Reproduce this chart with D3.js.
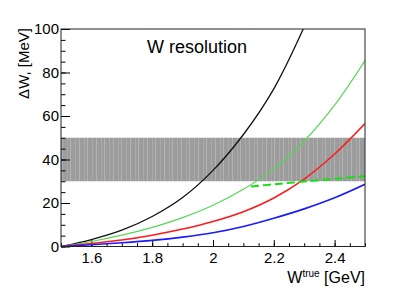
<!DOCTYPE html>
<html>
<head>
<meta charset="utf-8">
<script src="https://cdn.jsdelivr.net/npm/d3@7"></script>
<style>
  body { margin: 0; background: #fff; }
  text { font-family: "Liberation Sans", Arial, sans-serif; }
</style>
</head>
<body>
<div id="container"></div>
<script>
// data
var wValues = [1.5, 1.6, 1.7, 1.8, 1.9, 2.0, 2.1, 2.2, 2.3, 2.4, 2.5];
var blackRes = [0, 3.2, 7.5, 13.8, 22.5, 35, 51.5, 72.5, 101];
var greenRes = [0, 2.3, 5.2, 8.8, 13.3, 19, 26.3, 35.7, 48.5, 65, 85.5];
var redRes = [0, 1.4, 3.0, 5.2, 8, 11.5, 16, 22.3, 31, 42.5, 56.5];
var blueRes = [0, 0.8, 1.7, 2.8, 4.3, 6.3, 9.2, 13, 17.3, 22.4, 28.6];
var dashW = [2.125, 2.2, 2.3, 2.4, 2.5];
var dashRes = [27.6, 28.6, 29.9, 31.1, 32.4];
var bandLow = 30, bandHigh = 50;
var xTicks = [1.6, 1.8, 2.0, 2.2, 2.4];
var yTicks = [0, 20, 40, 60, 80, 100];

//枠の大きさ
var width = 405, height = 291;
var margin = {left: 61, top: 29, right: 40, bottom: 44.5};
var w = width - margin.left - margin.right;
var h = height - margin.top - margin.bottom;

var svg = d3.select("#container").append("svg")
  .attr("width", width)
  .attr("height", height);

var x = d3.scaleLinear().domain([1.5, 2.5]).range([0, w]);
var y = d3.scaleLinear().domain([0, 100]).range([h, 0]);

var defs = svg.append("defs");
defs.append("clipPath").attr("id", "frame")
  .append("rect").attr("width", w).attr("height", h);

// band texture
var pat = defs.append("pattern").attr("id", "hatch")
  .attr("patternUnits", "userSpaceOnUse")
  .attr("width", 17).attr("height", 10);
pat.append("rect").attr("width", 17).attr("height", 10).attr("fill", "#9c9c9c");
[1, 6, 9, 14].forEach(function(p, i) {
  pat.append("rect").attr("x", p).attr("width", 1).attr("height", 10)
    .attr("fill", i % 2 ? "#a9a9a9" : "#b3b3b3");
});

var g = svg.append("g").attr("transform", "translate(" + margin.left + "," + margin.top + ")");

g.append("rect")
  .attr("x", x(1.5)).attr("width", x(2.5) - x(1.5))
  .attr("y", y(bandHigh)).attr("height", y(bandLow) - y(bandHigh))
  .attr("fill", "url(#hatch)");

//axes
var minorX = d3.range(1.5, 2.5001, 0.05);
var minorY = d3.range(0, 100.001, 5);

g.append("g").attr("transform", "translate(0," + h + ")")
  .call(d3.axisBottom(x).tickValues(minorX).tickSize(-3.3).tickFormat(""))
  .call(function(a) { a.select(".domain").remove(); });
var xa = g.append("g").attr("transform", "translate(0," + h + ")")
  .call(d3.axisBottom(x).tickValues(xTicks).tickSize(-6.5).tickPadding(6)
    .tickFormat(function(d) { return d3.format("")(+d.toFixed(1)); }));
xa.select(".domain").remove();
xa.selectAll("text").attr("font-size", 15).attr("fill", "#000")
  .style("font-family", "Liberation Sans, Arial, sans-serif");

g.append("g")
  .call(d3.axisLeft(y).tickValues(minorY).tickSize(-4.5).tickFormat(""))
  .call(function(a) { a.select(".domain").remove(); });
var ya = g.append("g")
  .call(d3.axisLeft(y).tickValues(yTicks).tickSize(-9).tickPadding(2));
ya.select(".domain").remove();
ya.selectAll("text").attr("font-size", 15).attr("fill", "#000")
  .style("font-family", "Liberation Sans, Arial, sans-serif");

//curves
var line = d3.line()
  .x(function(d) { return x(d[0]); })
  .y(function(d) { return y(d[1]); })
  .curve(d3.curveCatmullRom.alpha(0.5));

var curves = [
  {vals: blackRes, color: "#111", sw: 1.3},
  {vals: greenRes, color: "#55d655", sw: 1.2},
  {vals: redRes, color: "#ff1a1a", sw: 1.5},
  {vals: blueRes, color: "#1a1aff", sw: 1.6}
];
var cg = g.append("g").attr("clip-path", "url(#frame)");
curves.forEach(function(c) {
  var pts = c.vals.map(function(v, i) { return [wValues[i], v]; });
  cg.append("path").attr("d", line(pts))
    .attr("fill", "none").attr("stroke", c.color).attr("stroke-width", c.sw);
});
cg.append("path")
  .attr("d", line(dashW.map(function(v, i) { return [v, dashRes[i]]; })))
  .attr("fill", "none").attr("stroke", "#11e011").attr("stroke-width", 2)
  .attr("stroke-dasharray", "8,4");

//frame
g.append("rect").attr("width", w).attr("height", h)
  .attr("fill", "none").attr("stroke", "#222").attr("stroke-width", 1);

//texts
g.append("text").attr("x", 86).attr("y", 23.5)
  .attr("font-size", 18).attr("fill", "#000").text("W resolution");

svg.append("text")
  .attr("transform", "translate(29,28) rotate(-90)")
  .attr("text-anchor", "end").attr("font-size", 15).attr("fill", "#000")
  .text("ΔW, [MeV]");

var xl = svg.append("text").attr("x", margin.left + w).attr("y", 283)
  .attr("text-anchor", "end").attr("font-size", 16).attr("fill", "#000");
xl.append("tspan").text("W");
xl.append("tspan").attr("font-size", 10).attr("dy", -6).text("true");
xl.append("tspan").attr("dy", 6).text(" [GeV]");
</script>
</body>
</html>
